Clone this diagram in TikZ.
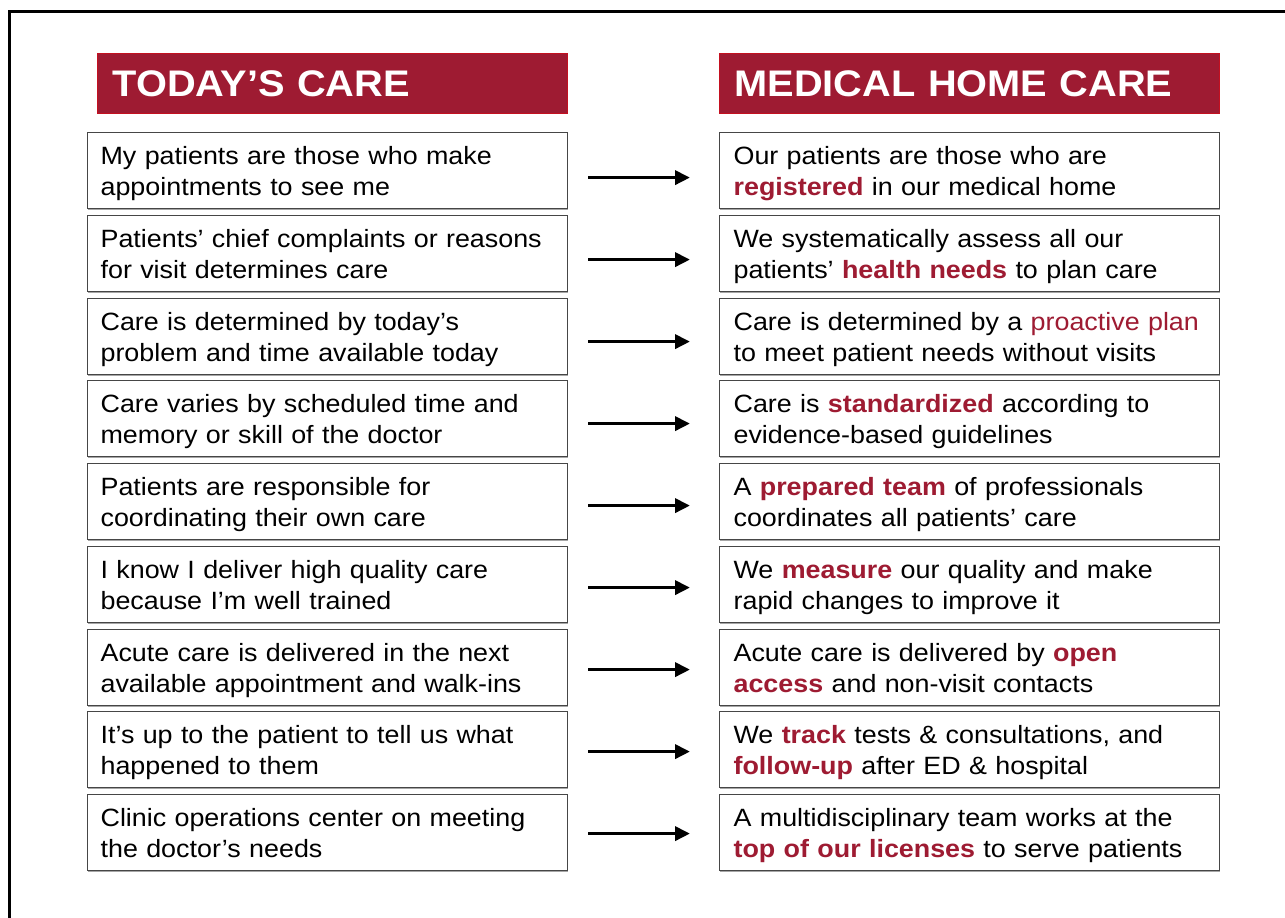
\documentclass[tikz,border=0pt]{standalone}
\usepackage{fontspec}
\setmainfont{Liberation Sans}[FakeStretch=1.075]
\usepackage{tikz}
\usetikzlibrary{arrows.meta, calc, shadows}
\usepackage{xcolor}
\definecolor{maroonred}{RGB}{158,27,50}
\definecolor{rimred}{RGB}{196,16,32}
\definecolor{boxgray}{RGB}{70,70,70}
\newcommand{\hl}[1]{\textbf{\textcolor{maroonred}{#1}}}

\begin{document}
\begin{tikzpicture}[x=1pt, y=-1pt, >=Stealth,
    header/.style={anchor=north west, fill=maroonred, draw=rimred, line width=1pt,
      inner xsep=15pt, inner ysep=0pt, text=white, align=left,
      font=\fontsize{37}{40}\selectfont\bfseries, minimum height=60pt},
    careold/.style={anchor=north west, fill=white, draw=boxgray, line width=1.2pt,
      drop shadow={shadow xshift=0.6pt, shadow yshift=-1.6pt, fill=black!35, opacity=1},
      text width=454pt, inner xsep=13pt, inner ysep=0pt,
      text height=32pt, text depth=44pt, align=left,
      font=\fontsize{25}{31}\selectfont},
    carenew/.style={careold, text width=472pt, inner xsep=14pt},
    flow/.style={line width=3.6pt, -{Triangle[length=15pt, width=14pt]}}]
  \useasboundingbox (0,0) rectangle (1285,918);

  % Outer frame
  \draw[line width=2.6pt] (9.7,918) -- (9.7,11.3) -- (1285,11.3);

  % Column headings
  \node[header, text width=440pt] (hOld) at (97,53) {TODAY’S CARE};
  \node[header, text width=470pt] (hNew) at (719,53) {MEDICAL HOME CARE};

  % Today's care
  \node[careold] (L1) at (87,132)    {My patients are those who make\\appointments to see me};
  \node[careold] (L2) at (87,214.75) {Patients’ chief complaints or reasons\\for visit determines care};
  \node[careold] (L3) at (87,297.5)  {Care is determined by today’s\\problem and time available today};
  \node[careold] (L4) at (87,380.25) {Care varies by scheduled time and\\memory or skill of the doctor};
  \node[careold] (L5) at (87,463)    {Patients are responsible for\\coordinating their own care};
  \node[careold] (L6) at (87,545.75) {I know I deliver high quality care\\because I’m well trained};
  \node[careold] (L7) at (87,628.5)  {Acute care is delivered in the next\\available appointment and walk-ins};
  \node[careold] (L8) at (87,711.25) {It’s up to the patient to tell us what\\happened to them};
  \node[careold] (L9) at (87,794)    {Clinic operations center on meeting\\the doctor’s needs};

  % Medical home care
  \node[carenew] (R1) at (719,132)    {Our patients are those who are\\\hl{registered} in our medical home};
  \node[carenew] (R2) at (719,214.75) {We systematically assess all our\\patients’ \hl{health needs} to plan care};
  \node[carenew] (R3) at (719,297.5)  {Care is determined by a \textcolor{maroonred}{proactive plan}\\to meet patient needs without visits};
  \node[carenew] (R4) at (719,380.25) {Care is \hl{standardized} according to\\evidence-based guidelines};
  \node[carenew] (R5) at (719,463)    {A \hl{prepared team} of professionals\\coordinates all patients’ care};
  \node[carenew] (R6) at (719,545.75) {We \hl{measure} our quality and make\\rapid changes to improve it};
  \node[carenew] (R7) at (719,628.5)  {Acute care is delivered by \hl{open}\\\hl{access} and non-visit contacts};
  \node[carenew] (R8) at (719,711.25) {We \hl{track} tests \& consultations, and\\\hl{follow-up} after ED \& hospital};
  \node[carenew] (R9) at (719,794)    {A multidisciplinary team works at the\\\hl{top of our licenses} to serve patients};

  % Arrows old -> new
  \draw[flow] ($(L1.east)+(20,7)$)    -- ($(R1.west)+(-29,7)$);
  \draw[flow] ($(L2.east)+(20,6.25)$) -- ($(R2.west)+(-29,6.25)$);
  \draw[flow] ($(L3.east)+(20,5.5)$)  -- ($(R3.west)+(-29,5.5)$);
  \draw[flow] ($(L4.east)+(20,4.75)$) -- ($(R4.west)+(-29,4.75)$);
  \draw[flow] ($(L5.east)+(20,4)$)    -- ($(R5.west)+(-29,4)$);
  \draw[flow] ($(L6.east)+(20,3.25)$) -- ($(R6.west)+(-29,3.25)$);
  \draw[flow] ($(L7.east)+(20,2.5)$)  -- ($(R7.west)+(-29,2.5)$);
  \draw[flow] ($(L8.east)+(20,1.75)$) -- ($(R8.west)+(-29,1.75)$);
  \draw[flow] ($(L9.east)+(20,1)$)    -- ($(R9.west)+(-29,1)$);
\end{tikzpicture}
\end{document}
